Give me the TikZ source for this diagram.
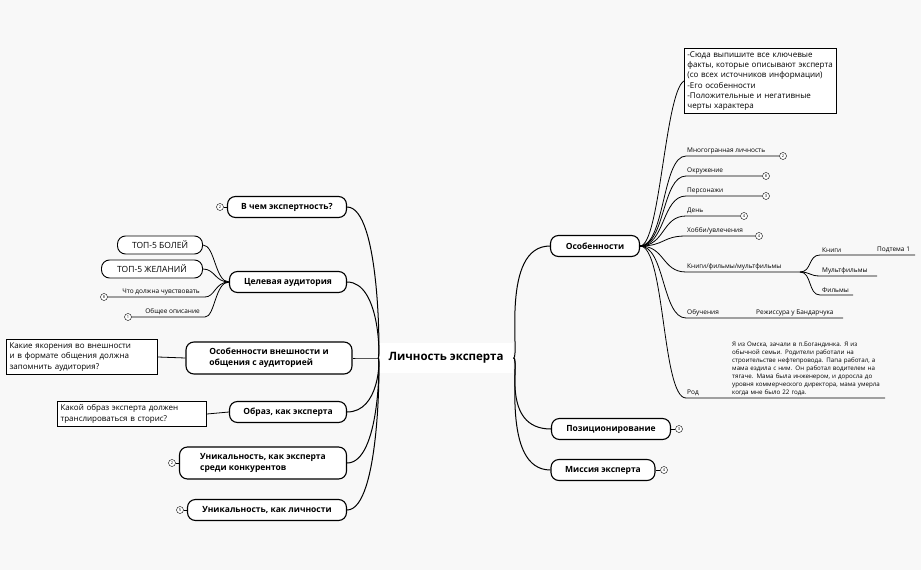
\documentclass[tikz,border=0pt]{standalone}
\usepackage{fontspec}
\setmainfont{Open Sans}
\begin{document}
\begin{tikzpicture}[x=1pt,y=-1pt,
 topic/.style={draw=black,line width=1.1pt,fill=white,rounded corners=8pt,font=\bfseries\fontsize{8.5}{10.5}\selectfont,minimum height=21pt,inner xsep=8pt,align=left},
 pill/.style={draw=black,line width=0.9pt,fill=white,rounded corners=8pt,font=\fontsize{8.5}{10}\selectfont,minimum height=18pt,inner xsep=6pt},
 note/.style={draw=black,line width=0.8pt,fill=white,font=\fontsize{8}{10.3}\selectfont,align=left,inner sep=3pt},
 sub/.style={font=\fontsize{6.5}{8}\selectfont,anchor=south west,inner sep=1pt},
 num/.style={draw=black,circle,fill=white,inner sep=0pt,minimum size=7pt,font=\fontsize{4}{4}\selectfont},
 con/.style={line width=1pt},
 thin/.style={line width=0.8pt}]
\fill[white!96!blue!2!gray!6] (0,0) rectangle (921,570);
\useasboundingbox (0,0) rectangle (921,570);
\node[fill=white,font=\bfseries\fontsize{11.5}{13}\selectfont,minimum height=30pt,inner xsep=10pt] (c) at (446,358) {Личность эксперта};
% right
\node[topic,minimum width=89pt] (os) at (595,246) {Особенности};
\node[topic,minimum width=119pt] (poz) at (611,429) {Позиционирование};
\node[num] (pn) at (679,429) {3};
\node[topic,minimum width=104pt] (mis) at (603,470) {Миссия эксперта};
\node[num] (mn) at (664,470) {4};
\draw[con] (pn.west) -- (poz.east); \draw[con] (mn.west) -- (mis.east);
\draw[con] (c.east) .. controls (520,358) and (500,246) .. (os.west);
\draw[con] (c.east) .. controls (520,358) and (500,429) .. (poz.west);
\draw[con] (c.east) .. controls (520,358) and (500,470) .. (mis.west);
% note top
\node[note,anchor=north west,text width=146pt] (n1) at (684,48) {-Сюда выпишите все ключевые факты, которые описывают эксперта \ (со всех источников информации)\\-Его особенности\\-Положительные и негативные черты характера};
\coordinate (j) at (640,246);
\draw[thin] (j) .. controls (660,246) and (665,92) .. (n1.west);
\foreach \y/\e/\t/\n/\nm in {156/783/{Многогранная личность}/2/a,176/766/{Окружение}/8/b,196/766/{Персонажи}/3/c,216/744/{День}/4/d,236/759/{Хобби/увлечения}/4/e}{
 \node[sub] at (686,\y-1) {\t};
 \node[num] (k\nm) at (\e,\y) {\n};
 \draw[thin] (j) .. controls (665,246) and (662,\y) .. (686,\y) -- (k\nm.west);
}
\coordinate (kf) at (800,272);
\node[sub] at (686,271) {Книги/фильмы/мультфильмы};
\draw[thin] (j) .. controls (665,246) and (662,272) .. (686,272) -- (kf);
\coordinate (kb) at (875,255); \coordinate (pt) at (915,255);
\node[sub] at (821,254) {Книги}; \node[sub] at (876,254) {Подтема 1};
\draw[thin] (kf) .. controls (812,272) and (808,255) .. (820,255) -- (kb) -- (pt);
\coordinate (km) at (877,276); \node[sub] at (821,275) {Мультфильмы};
\draw[thin] (kf) .. controls (810,272) and (810,276) .. (820,276) -- (km);
\coordinate (kff) at (853,295); \node[sub] at (821,294) {Фильмы};
\draw[thin] (kf) .. controls (812,272) and (808,295) .. (820,295) -- (kff);
\coordinate (ob) at (843,318);
\node[sub] at (686,317) {Обучения}; \node[sub] at (755,317) {Режиссура у Бандарчука};
\draw[thin] (j) .. controls (665,246) and (662,318) .. (686,318) -- (ob);
\coordinate (rod) at (885,398);
\node[sub] at (686,397) {Род};
\node[sub,text width=152pt,align=left,font=\fontsize{6.2}{8}\selectfont] at (731,397) {Я из Омска, зачали в п.Богандинка. Я из обычной семьи. Родители работали на строительстве нефтепровода. Папа работал, а мама ездила с ним. Он работал водителем на тягаче. Мама была инженером, и доросла до уровня коммерческого директора, мама умерла когда мне было 22 года.};
\draw[thin] (j) .. controls (665,246) and (662,398) .. (686,398) -- (rod);
% left
\node[topic,minimum width=119pt] (v) at (287,207) {В чем экспертность?};
\node[num] (vn) at (220,207) {2};
\node[topic,minimum width=117pt] (ca) at (288,282) {Целевая аудитория};
\node[topic,minimum width=166pt,minimum height=32pt] (ov) at (269,358) {Особенности внешности и\\общения с аудиторией};
\node[topic,minimum width=117pt] (ob2) at (288,412) {Образ, как эксперта};
\node[topic,minimum width=167pt,minimum height=32pt] (ue) at (263,463) {Уникальность, как эксперта\\среди конкурентов};
\node[num] (uen) at (172,463) {2};
\node[topic,minimum width=159pt] (ul) at (267,510) {Уникальность, как личности};
\node[num] (uln) at (180,510) {5};
\draw[con] (vn.east) -- (v.west); \draw[con] (uen.east) -- (ue.west); \draw[con] (uln.east) -- (ul.west);
\foreach \n in {v,ca,ov,ob2,ue,ul}{\draw[con] (c.west) .. controls (380,358) and (380,0 |- \n.east) .. (\n.east);}
\node[pill,minimum width=85pt] (b1) at (160,245) {ТОП-5 БОЛЕЙ};
\node[pill,minimum width=101pt] (b2) at (152,269) {ТОП-5 ЖЕЛАНИЙ};
\draw[thin] (ca.west) .. controls (215,282) and (215,245) .. (b1.east);
\draw[thin] (ca.west) .. controls (215,282) and (215,269) .. (b2.east);
\node[num] (c1) at (104,297) {8}; \node[num] (c2) at (128,317) {1};
\node[sub,anchor=south east] at (201,296) {Что должна чувствовать};
\node[sub,anchor=south east] at (201,316) {Общее описание};
\draw[thin] (ca.west) .. controls (215,282) and (215,297) .. (205,297) -- (c1.east);
\draw[thin] (ca.west) .. controls (215,282) and (215,317) .. (205,317) -- (c2.east);
\node[note,anchor=east,text width=145pt] (n2) at (158,357) {Какие якорения во внешности и в формате общения должна запомнить аудитория?};
\node[note,anchor=east,text width=143pt] (n3) at (207,414) {Какой образ эксперта должен транслироваться в сторис?};
\draw[thin] (ov.west) -- (n2.east); \draw[thin] (ob2.west) -- (n3.east);
\end{tikzpicture}
\end{document}
